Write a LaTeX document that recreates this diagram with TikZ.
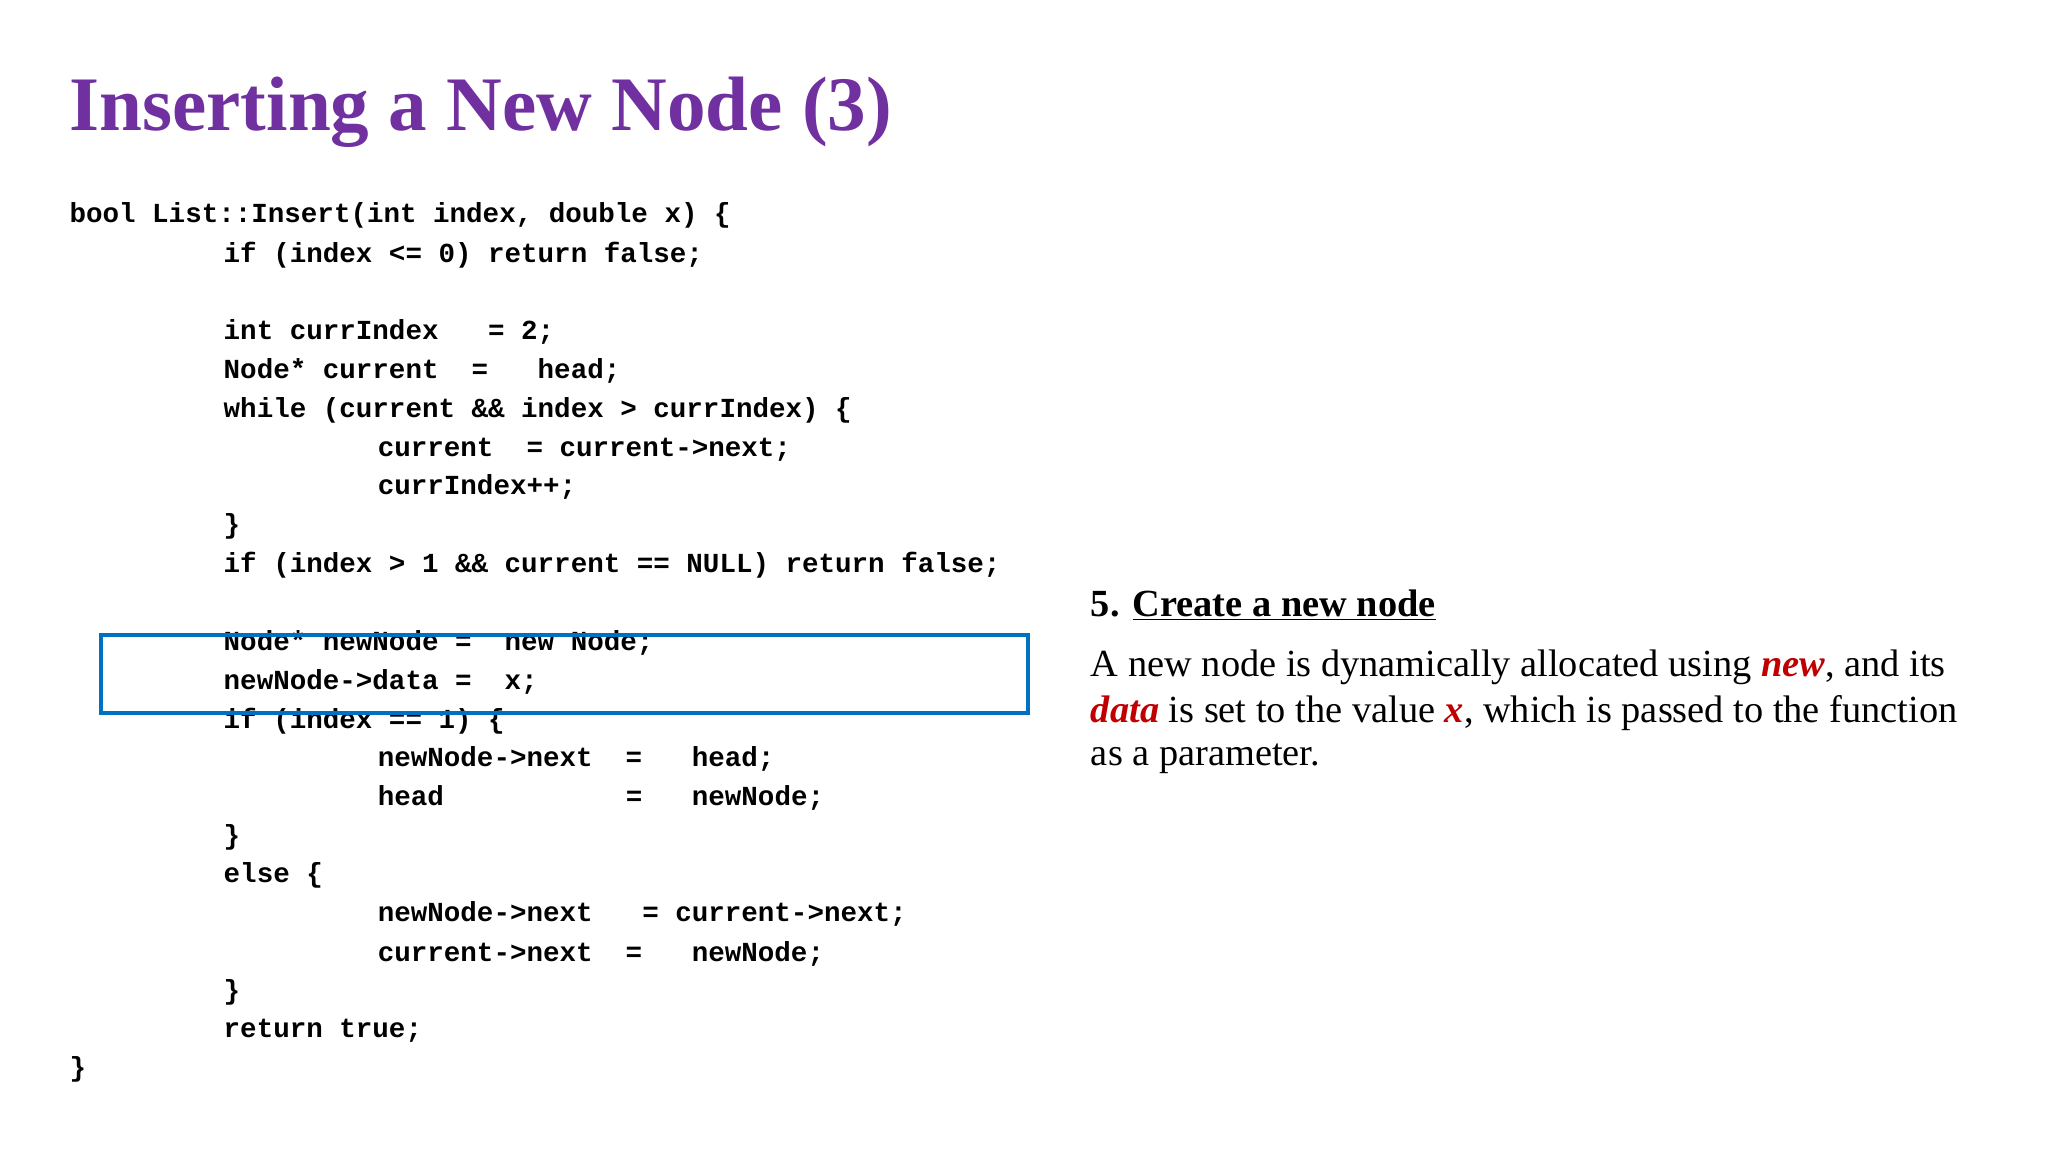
\documentclass[tikz,border=0pt]{standalone}
\usepackage{fontspec}
\setmainfont{Liberation Serif}
\setmonofont{Liberation Mono}
\definecolor{titlepurple}{RGB}{112,48,160}
\definecolor{boxblue}{RGB}{0,112,192}
\definecolor{keyred}{RGB}{192,0,0}
\newcommand{\kw}[1]{\textcolor{keyred}{\textbf{\textit{#1}}}}
\tikzset{
  codeline/.style={anchor=west,inner sep=0pt,font=\fontsize{15}{18}\selectfont\ttfamily\bfseries},
  bodyline/.style={anchor=west,inner sep=0pt,font=\fontsize{20.9}{25}\selectfont},
}
\begin{document}
\begin{tikzpicture}[x=0.25mm,y=-0.25mm]
    \useasboundingbox (0,0) rectangle (1568,882);
    \node [anchor=base west,inner sep=0pt,text=titlepurple,font=\fontsize{42}{50}\selectfont\bfseries] (title) at (53,100) {Inserting a New Node (3)};
    % code listing
    \node [codeline] (c1)  at (53,165)  {bool List::Insert(int index, double x) \{};
    \node [codeline] (c2)  at (171,195) {if (index <= 0) return false;};
    \node [codeline] (c3)  at (171,254) {int currIndex~~~= 2;};
    \node [codeline] (c4)  at (171,284) {Node* current~~=~~~head;};
    \node [codeline] (c5)  at (171,314) {while (current \&\& index > currIndex) \{};
    \node [codeline] (c6)  at (289,344) {current~~= current->next;};
    \node [codeline] (c7)  at (289,373) {currIndex++;};
    \node [codeline] (c8)  at (171,403) {\}};
    \node [codeline] (c9)  at (171,433) {if (index > 1 \&\& current == NULL) return false;};
    \node [codeline] (c10) at (171,492) {Node* newNode =~~new Node;};
    \node [codeline] (c11) at (171,522) {newNode->data =~~x;};
    \node [codeline] (c12) at (171,552) {if (index == 1) \{};
    \node [codeline] (c13) at (289,581) {newNode->next~~=~~~head;};
    \node [codeline] (c14) at (289,611) {head~~~~~~~~~~~=~~~newNode;};
    \node [codeline] (c15) at (171,641) {\}};
    \node [codeline] (c16) at (171,670) {else \{};
    \node [codeline] (c17) at (289,700) {newNode->next~~~= current->next;};
    \node [codeline] (c18) at (289,730) {current->next~~=~~~newNode;};
    \node [codeline] (c19) at (171,760) {\}};
    \node [codeline] (c20) at (171,789) {return true;};
    \node [codeline] (c21) at (53,819)  {\}};
    % highlight
    \draw [boxblue,line width=0.75mm] (77,486) rectangle (787,546);
    % explanation
    \node [bodyline,font=\fontsize{20.9}{25}\selectfont\bfseries] (step) at (835,463) {5. \underline{Create a new node}};
    \node [bodyline] (t1) at (835,511) {A new node is dynamically allocated using \kw{new}, and its};
    \node [bodyline] (t2) at (835,546) {\kw{data} is set to the value \kw{x}, which is passed to the function};
    \node [bodyline] (t3) at (835,581) {as a parameter.};
\end{tikzpicture}
\end{document}
